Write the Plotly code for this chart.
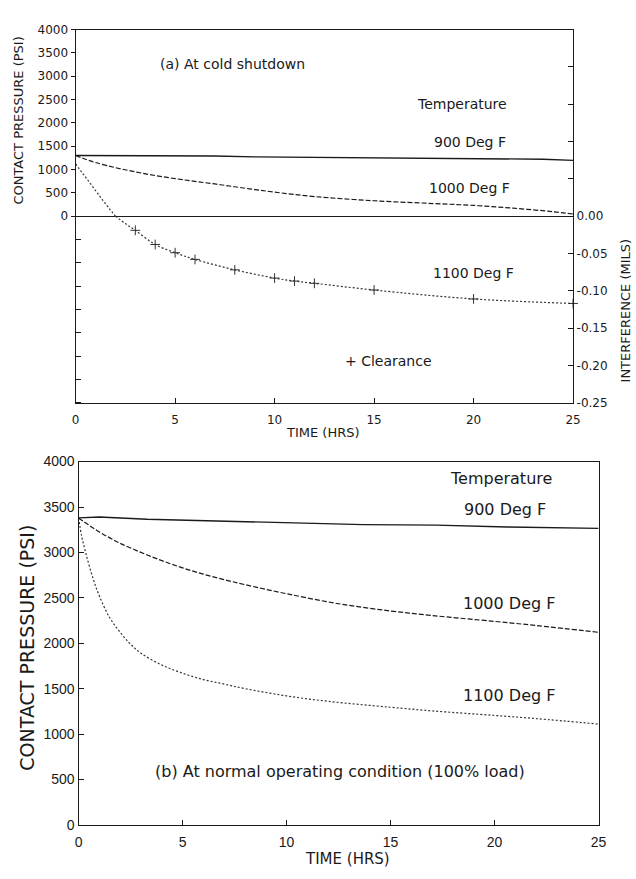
import plotly.graph_objects as go

# ---------------- data ----------------
# (a) cold shutdown: contact pressure, psi
a_900_t = [0, 2, 5, 7, 9, 12, 15, 20, 23.5, 25]
a_900_p = [1300, 1300, 1295, 1290, 1270, 1260, 1250, 1235, 1220, 1195]

a_1000_t = [0, 0.5, 1, 2, 3, 4, 5, 6, 7, 8, 9, 10, 12, 15, 18, 20, 22, 24, 25]
a_1000_p = [1300, 1220, 1150, 1040, 950, 870, 805, 745, 690, 630, 570, 515, 420,
            330, 270, 230, 170, 95, 45]

a_1100_t = [0, 0.33, 0.67, 1, 1.33, 1.67, 2.0]
a_1100_p = [1120, 930, 740, 550, 360, 175, 0]

# (a) 1100 Deg F after contact is lost: interference, mils
clr_t = [2.0, 2.5, 3, 4, 5, 6, 8, 10, 11, 12, 15, 20, 25]
clr_mils = [0.0, -0.010, -0.019, -0.038, -0.049, -0.058, -0.072, -0.083, -0.087,
            -0.090, -0.099, -0.111, -0.117]
clr_marked_from = 3  # "+" symbols drawn from this hour on

# (b) normal operating condition (100% load): contact pressure, psi
b_900_t = [0, 1, 3.3, 5.2, 8.2, 9.6, 13.7, 17.2, 20.6, 25]
b_900_p = [3380, 3390, 3365, 3355, 3340, 3330, 3305, 3300, 3280, 3265]

b_1000_t = [0, 0.5, 1, 1.5, 2, 3, 4, 5, 6, 7, 8, 10, 12.5, 15, 17, 20, 22, 25]
b_1000_p = [3380, 3300, 3225, 3160, 3100, 3000, 2910, 2830, 2760, 2700, 2645, 2545,
            2435, 2355, 2305, 2240, 2195, 2120]

b_1100_t = [0, 0.15, 0.35, 0.66, 1, 1.5, 2, 2.5, 3, 4, 5, 6, 7, 8, 10, 12, 15, 17,
            20, 22, 25]
b_1100_p = [3380, 3180, 2990, 2740, 2520, 2280, 2120, 1990, 1890, 1760, 1670, 1600,
            1550, 1500, 1420, 1360, 1295, 1255, 1205, 1170, 1110]

# ticks
time_ticks = [0, 5, 10, 15, 20, 25]
psi_ticks = [0, 500, 1000, 1500, 2000, 2500, 3000, 3500, 4000]
psi_neg_ticks = [-500, -1000, -1500, -2000, -2500, -3000, -3500, -4000]
mils_ticks = [-0.25, -0.20, -0.15, -0.10, -0.05, 0.00, 0.05, 0.10, 0.15, 0.20]
mils_labels = ["-0.25", "-0.20", "-0.15", "-0.10", "-0.05", "0.00", "", "", "", ""]

# ---------------- figure ----------------
W, H = 636, 879
INK = "#1a1a1a"
FONT = "DejaVu Sans"


def px_x(p):
    return p / W


def px_y(p):
    return 1 - p / H


fig = go.Figure()

solid = dict(color=INK, width=1.3)
dashed = dict(color=INK, width=1.2, dash="5px,2px")
dotted = dict(color="#333333", width=1.2, dash="2px,2px")

# panel (a)
fig.add_trace(go.Scatter(x=a_900_t, y=a_900_p, mode="lines", line=solid,
                         xaxis="x", yaxis="y", showlegend=False))
fig.add_trace(go.Scatter(x=a_1000_t, y=a_1000_p, mode="lines", line=dashed,
                         line_shape="spline", xaxis="x", yaxis="y", showlegend=False))
fig.add_trace(go.Scatter(x=a_1100_t, y=a_1100_p, mode="lines", line=dotted,
                         line_shape="spline", xaxis="x", yaxis="y", showlegend=False))
fig.add_trace(go.Scatter(x=clr_t, y=clr_mils, mode="lines", line=dotted,
                         line_shape="spline", xaxis="x", yaxis="y2", showlegend=False))
mk_t = [t for t in clr_t if t >= clr_marked_from]
mk_v = [v for t, v in zip(clr_t, clr_mils) if t >= clr_marked_from]
fig.add_trace(go.Scatter(x=mk_t, y=mk_v, mode="markers",
                         marker=dict(symbol="cross-thin", size=7,
                                     line=dict(color="#333333", width=1)),
                         xaxis="x", yaxis="y2", showlegend=False, cliponaxis=False))

# panel (b)
fig.add_trace(go.Scatter(x=b_900_t, y=b_900_p, mode="lines", line=solid,
                         xaxis="x2", yaxis="y3", showlegend=False))
fig.add_trace(go.Scatter(x=b_1000_t, y=b_1000_p, mode="lines", line=dashed,
                         line_shape="spline", xaxis="x2", yaxis="y3", showlegend=False))
fig.add_trace(go.Scatter(x=b_1100_t, y=b_1100_p, mode="lines", line=dotted,
                         line_shape="spline", xaxis="x2", yaxis="y3", showlegend=False))

axis_common = dict(showgrid=False, showline=True, linecolor=INK, linewidth=1.2,
                   tickcolor=INK, tickwidth=1, color=INK)

fig.update_layout(
    width=W, height=H,
    margin=dict(l=0, r=0, t=0, b=0),
    paper_bgcolor="white", plot_bgcolor="white",
    font=dict(family=FONT, color=INK),
    xaxis=dict(domain=[px_x(73), px_x(580)], range=[0, 25], anchor="y",
               tickmode="array", tickvals=time_ticks, ticks="inside", ticklen=5,
               mirror=True, zeroline=False, tickfont=dict(size=12),
               ticklabelstandoff=6, **axis_common),
    yaxis=dict(domain=[px_y(402), px_y(22)], range=[-4000, 4000], anchor="x",
               tickmode="array", tickvals=psi_ticks, ticks="outside", ticklen=4,
               minor=dict(tickmode="array", tickvals=psi_neg_ticks, ticks="inside",
                          ticklen=5, tickcolor=INK),
               mirror=True, zeroline=True, zerolinecolor=INK, zerolinewidth=1.2,
               tickfont=dict(size=12), **axis_common),
    yaxis2=dict(range=[-0.25, 0.25], overlaying="y", side="right", anchor="x",
                tickmode="array", tickvals=mils_ticks, ticktext=mils_labels,
                ticks="inside", ticklen=5, zeroline=False,
                tickfont=dict(size=12), **axis_common),
    xaxis2=dict(domain=[px_x(76), px_x(606)], range=[0, 25], anchor="y3",
                tickmode="array", tickvals=time_ticks, ticks="inside", ticklen=5,
                mirror=True, zeroline=False,
                tickfont=dict(size=14, family="Liberation Sans"),
                ticklabelstandoff=4, **axis_common),
    yaxis3=dict(domain=[px_y(832), px_y(462)], range=[0, 4000], anchor="x2",
                tickmode="array", tickvals=psi_ticks, ticks="inside", ticklen=5,
                mirror=True, zeroline=False,
                tickfont=dict(size=14, family="Liberation Sans"), **axis_common),
)

ann = []


def label(text, x, y, size, xref="x", yref="y", angle=0):
    ann.append(dict(text=text, x=x, y=y, xref=xref, yref=yref, showarrow=False,
                    xanchor="center", yanchor="middle", textangle=angle,
                    font=dict(size=size, family=FONT, color=INK)))


# panel (a) labels (data coordinates: hours, psi)
label("(a) At cold shutdown", 7.9, 3260, 14)
label("Temperature", 19.4, 2400, 14)
label("900 Deg F", 19.8, 1580, 14)
label("1000 Deg F", 19.8, 610, 14)
label("1100 Deg F", 20.0, -1220, 14)
label("+ Clearance", 15.7, -3100, 14)

# panel (b) labels
label("Temperature", 20.3, 3815, 16, "x2", "y3")
label("900 Deg F", 20.5, 3470, 16, "x2", "y3")
label("1000 Deg F", 20.7, 2440, 16, "x2", "y3")
label("1100 Deg F", 20.7, 1420, 16, "x2", "y3")
label("(b) At normal operating condition (100% load)", 12.55, 590, 16, "x2", "y3")

# axis titles
label("CONTACT PRESSURE (PSI)", px_x(15), px_y(115), 13, "paper", "paper", -90)
label("INTERFERENCE (MILS)", px_x(633), px_y(308), 13, "paper", "paper", -90)
label("TIME (HRS)", px_x(325), px_y(432), 13, "paper", "paper")
label("CONTACT PRESSURE (PSI)", px_x(24), px_y(652), 19, "paper", "paper", -90)
label("TIME (HRS)", px_x(350), px_y(867), 15, "paper", "paper")

fig.update_layout(annotations=ann)

fig.write_html("out.html")
